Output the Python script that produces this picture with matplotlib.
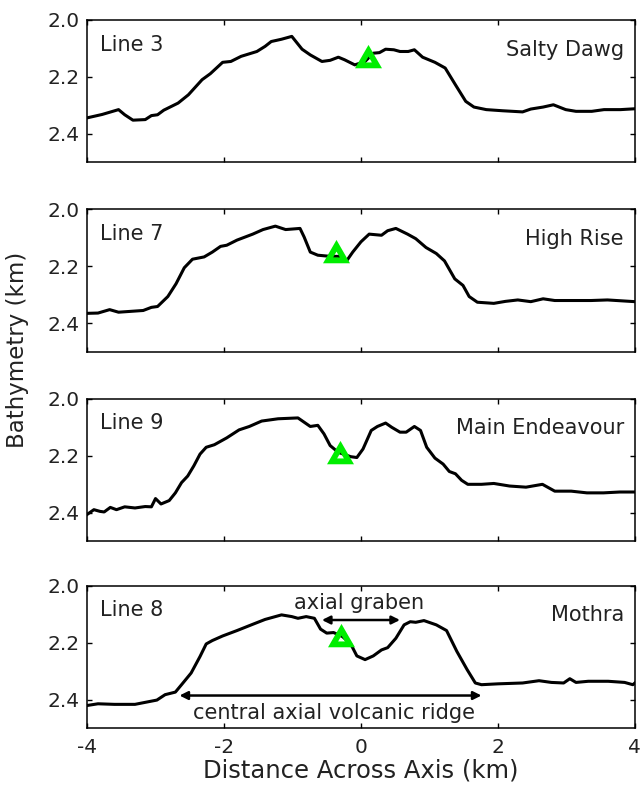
import matplotlib
matplotlib.use('Agg')
import matplotlib.pyplot as plt

plt.rcParams['font.family'] = ['DejaVu Sans']

# bathymetry profiles (distance km, depth km)
line3_x = [-4.0, -3.78, -3.54, -3.45, -3.33, -3.15, -3.06, -2.97, -2.88, -2.67, -2.52, -2.32,
           -2.20, -2.02, -1.90, -1.75, -1.52, -1.40, -1.31, -1.16, -1.01, -0.95, -0.86, -0.74,
           -0.57, -0.45, -0.33, -0.24, -0.09, 0.06, 0.18, 0.27, 0.36, 0.48, 0.57, 0.69, 0.78,
           0.90, 1.08, 1.23, 1.38, 1.53, 1.65, 1.83, 2.07, 2.36, 2.48, 2.66, 2.81, 2.99, 3.14,
           3.37, 3.55, 3.79, 4.0]
line3_z = [2.344, 2.332, 2.315, 2.333, 2.352, 2.350, 2.336, 2.333, 2.317, 2.292, 2.263, 2.210,
           2.189, 2.149, 2.146, 2.128, 2.111, 2.093, 2.076, 2.068, 2.058, 2.076, 2.103, 2.123,
           2.146, 2.142, 2.131, 2.140, 2.158, 2.146, 2.117, 2.115, 2.103, 2.105, 2.111, 2.111,
           2.105, 2.131, 2.149, 2.169, 2.228, 2.286, 2.306, 2.315, 2.319, 2.323, 2.313, 2.306,
           2.298, 2.315, 2.321, 2.321, 2.315, 2.315, 2.312]

line7_x = [-4.0, -3.84, -3.67, -3.54, -3.36, -3.18, -3.06, -2.97, -2.82, -2.70, -2.58, -2.46,
           -2.29, -2.17, -2.05, -1.96, -1.81, -1.58, -1.43, -1.25, -1.10, -0.89, -0.83, -0.74,
           -0.63, -0.45, -0.33, -0.21, -0.12, 0.0, 0.12, 0.30, 0.39, 0.51, 0.68, 0.80, 0.95,
           1.10, 1.22, 1.37, 1.49, 1.58, 1.70, 1.94, 2.11, 2.29, 2.48, 2.66, 2.83, 3.07, 3.36,
           3.60, 4.0]
line7_z = [2.366, 2.365, 2.353, 2.362, 2.359, 2.356, 2.345, 2.342, 2.307, 2.262, 2.206, 2.176,
           2.168, 2.151, 2.131, 2.127, 2.109, 2.088, 2.072, 2.060, 2.072, 2.068, 2.098, 2.151,
           2.162, 2.166, 2.166, 2.182, 2.151, 2.115, 2.088, 2.092, 2.076, 2.068, 2.088, 2.104,
           2.135, 2.156, 2.182, 2.245, 2.268, 2.307, 2.327, 2.331, 2.324, 2.319, 2.325, 2.315,
           2.321, 2.321, 2.321, 2.319, 2.325]

line9_x = [-4.0, -3.90, -3.81, -3.75, -3.66, -3.57, -3.45, -3.30, -3.15, -3.06, -3.00, -2.92,
           -2.80, -2.71, -2.62, -2.53, -2.44, -2.35, -2.26, -2.14, -1.96, -1.78, -1.63, -1.45,
           -1.21, -0.92, -0.83, -0.74, -0.63, -0.54, -0.45, -0.33, -0.15, -0.06, 0.03, 0.15,
           0.24, 0.36, 0.45, 0.57, 0.66, 0.78, 0.87, 0.96, 1.08, 1.20, 1.29, 1.38, 1.47, 1.56,
           1.76, 1.94, 2.17, 2.41, 2.65, 2.83, 3.07, 3.30, 3.54, 3.78, 4.0]
line9_z = [2.407, 2.390, 2.396, 2.398, 2.382, 2.390, 2.380, 2.384, 2.379, 2.380, 2.351, 2.370,
           2.358, 2.331, 2.295, 2.272, 2.236, 2.195, 2.171, 2.162, 2.138, 2.110, 2.098, 2.079,
           2.071, 2.068, 2.083, 2.098, 2.094, 2.124, 2.165, 2.189, 2.204, 2.207, 2.177, 2.112,
           2.098, 2.086, 2.101, 2.118, 2.118, 2.098, 2.112, 2.171, 2.209, 2.230, 2.256, 2.264,
           2.287, 2.301, 2.301, 2.298, 2.307, 2.311, 2.301, 2.325, 2.325, 2.331, 2.331, 2.328,
           2.328]

line8_x = [-4.0, -3.84, -3.60, -3.30, -3.13, -2.98, -2.86, -2.71, -2.62, -2.48, -2.35, -2.26,
           -2.17, -2.02, -1.81, -1.58, -1.40, -1.16, -1.01, -0.92, -0.80, -0.68, -0.59, -0.50,
           -0.40, -0.27, -0.15, -0.06, 0.06, 0.18, 0.30, 0.39, 0.51, 0.63, 0.72, 0.80, 0.92,
           1.10, 1.25, 1.40, 1.55, 1.67, 1.76, 2.00, 2.36, 2.60, 2.78, 2.96, 3.05, 3.14, 3.32,
           3.61, 3.85, 3.97, 4.0]
line8_z = [2.421, 2.415, 2.417, 2.417, 2.409, 2.402, 2.383, 2.374, 2.348, 2.307, 2.249, 2.205,
           2.193, 2.177, 2.158, 2.136, 2.119, 2.103, 2.109, 2.115, 2.109, 2.115, 2.153, 2.167,
           2.165, 2.179, 2.205, 2.247, 2.260, 2.247, 2.226, 2.218, 2.185, 2.138, 2.127, 2.129,
           2.123, 2.138, 2.158, 2.231, 2.295, 2.342, 2.348, 2.345, 2.342, 2.334, 2.340, 2.342,
           2.327, 2.340, 2.336, 2.336, 2.340, 2.348, 2.342]

profiles_x = [line3_x, line7_x, line9_x, line8_x]
profiles_z = [line3_z, line7_z, line9_z, line8_z]
line_names = ['Line 3', 'Line 7', 'Line 9', 'Line 8']
site_names = ['Salty Dawg', 'High Rise', 'Main Endeavour', 'Mothra']
vent_x = [0.10, -0.37, -0.30, -0.295]
vent_z = [2.142, 2.160, 2.200, 2.188]

xticks = [-4, -2, 0, 2, 4]
yticks = [2.0, 2.2, 2.4]

fig = plt.figure(figsize=(6.4, 7.85), dpi=100)

left, width, height = 0.136, 0.856, 0.1815
bottoms = [0.7932, 0.5522, 0.3108, 0.0726]

axes = []
for i in range(4):
    ax = fig.add_axes([left, bottoms[i], width, height])
    ax.plot(profiles_x[i], profiles_z[i], color='black', lw=2.2, zorder=2)
    # vent site marker: thick green open triangle
    ax.plot(vent_x[i], vent_z[i], marker=(3, 0, 0), ms=14, mfc='none', mec='#00ee00',
            mew=4.2, ls='none', zorder=3)
    ax.set_xlim(-4, 4)
    ax.set_ylim(2.5, 2.0)
    ax.set_xticks(xticks)
    ax.set_yticks(yticks)
    ax.set_yticklabels(['%.1f' % v for v in yticks])
    ax.tick_params(direction='in', top=True, right=True, length=3.5, width=1,
                   labelsize=14.5, labelcolor='#222222')
    ax.tick_params(axis='y', pad=5)
    ax.tick_params(axis='x', pad=7)
    for s in ax.spines.values():
        s.set_linewidth(1.1)
    ax.text(0.024, 0.825, line_names[i], transform=ax.transAxes, fontsize=15,
            ha='left', va='center', color='#222222')
    ax.text(0.98, 0.79, site_names[i], transform=ax.transAxes, fontsize=15,
            ha='right', va='center', color='#222222')
    if i < 3:
        ax.set_xticklabels([])
    axes.append(ax)

ax = axes[3]
ax.set_xticklabels([str(t) for t in xticks])
ax.set_xlabel('Distance Across Axis (km)', fontsize=17.5, labelpad=1, color='#222222')

# annotations on the Mothra profile
ax.annotate('', xy=(-0.57, 2.121), xytext=(0.57, 2.121),
            arrowprops=dict(arrowstyle='<|-|>', color='black', lw=1.8,
                            mutation_scale=12, shrinkA=0, shrinkB=0))
ax.text(-0.03, 2.063, 'axial graben', fontsize=15, ha='center', va='center', color='#222222')
ax.annotate('', xy=(-2.65, 2.386), xytext=(1.76, 2.386),
            arrowprops=dict(arrowstyle='<|-|>', color='black', lw=1.8,
                            mutation_scale=12, shrinkA=0, shrinkB=0))
ax.text(-0.40, 2.447, 'central axial volcanic ridge', fontsize=15, ha='center',
        va='center', color='#222222')

fig.text(0.027, 0.554, 'Bathymetry (km)', rotation=90, fontsize=16.5,
         ha='center', va='center', color='#222222')

fig.savefig('out.png', dpi=100)
